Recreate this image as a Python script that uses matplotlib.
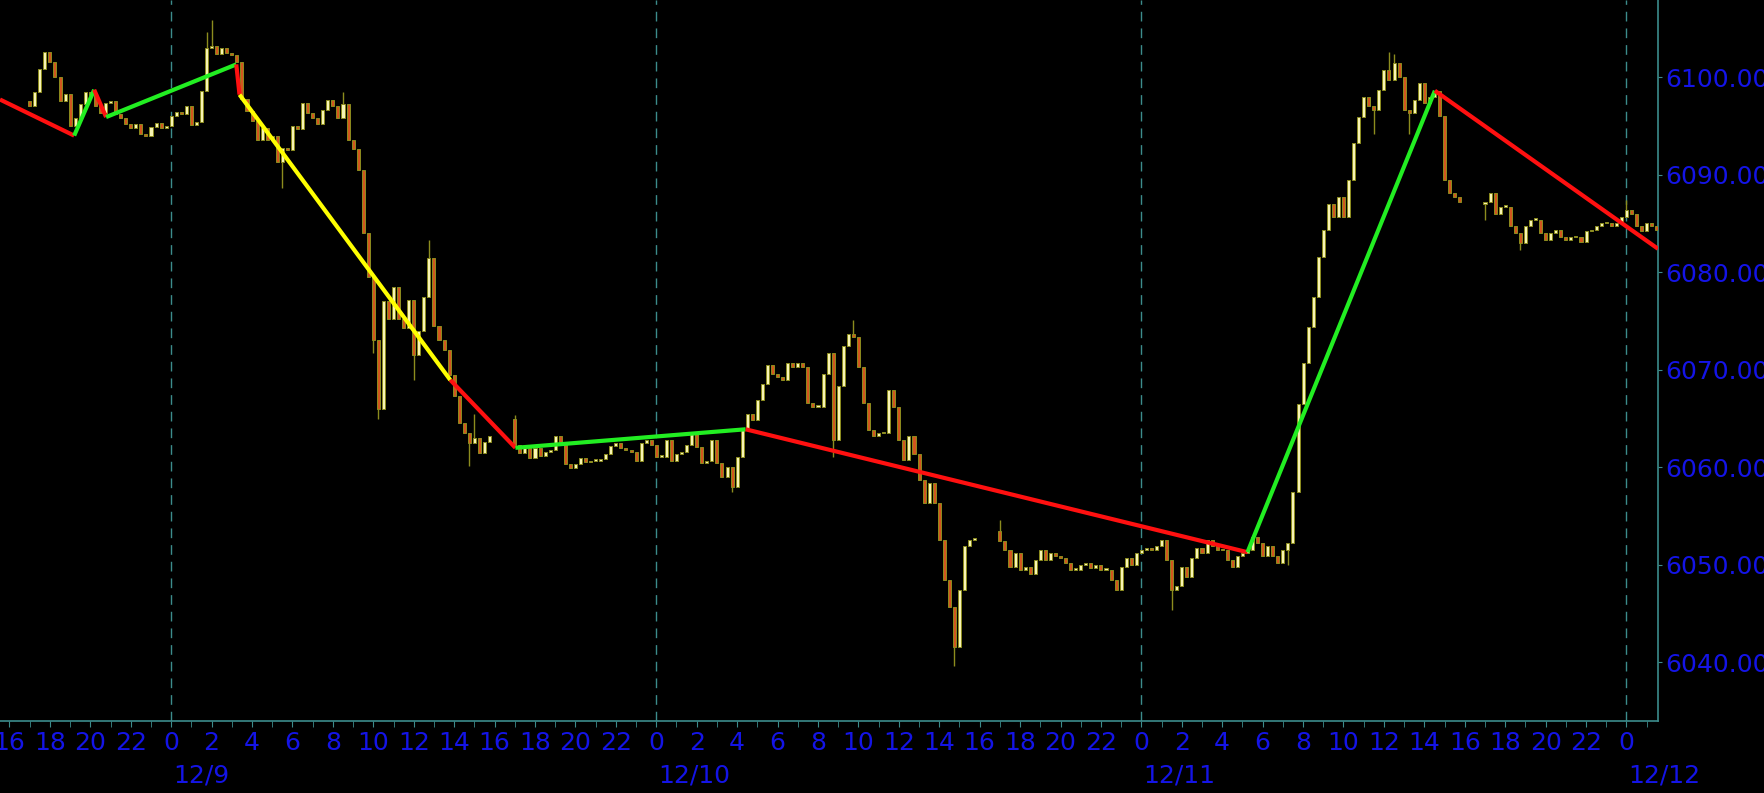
import numpy as np
import matplotlib.pyplot as plt
from matplotlib.transforms import blended_transform_factory

# x is hours counted from 12/9 00:00; four trading sessions of 15-minute bars
session_starts = [-7.0, 17.0, 41.0, 65.0]
session_opens = [6097.5, 6065.0, 6053.5, 6087.0]

closes_s1 = [
    6097.0, 6098.5, 6100.8, 6102.6, 6101.5, 6100.0, 6097.5, 6098.3, 6095.0, 6095.8,
    6097.2, 6098.5, 6098.2, 6097.0, 6096.3, 6097.3, 6097.5, 6096.2, 6095.8, 6095.2,
    6094.8, 6095.2, 6094.2, 6094.0, 6094.9, 6095.3, 6094.8, 6095.0,
    6096.0, 6096.4, 6096.2, 6097.0, 6095.1, 6095.4, 6098.6, 6103.0, 6103.2, 6102.4,
    6103.0, 6102.5, 6102.3, 6101.5, 6097.8, 6096.5, 6095.5, 6093.5, 6094.8, 6093.6,
    6094.0, 6091.3, 6092.7, 6092.5, 6095.0, 6094.7, 6097.3, 6096.3, 6095.8, 6095.2,
    6096.6, 6097.7, 6097.0, 6095.8, 6097.2, 6093.5, 6092.6, 6090.5, 6084.0, 6079.5,
    6073.0, 6066.0, 6077.0, 6075.2, 6078.5, 6075.2, 6074.3, 6077.2, 6071.5, 6074.0,
    6077.5, 6081.5, 6074.5, 6073.0, 6072.0, 6069.5, 6067.3, 6064.5, 6063.5, 6062.5,
    6063.0, 6061.5, 6062.6, 6063.2,
]
closes_s2 = [
    6062.3, 6061.5, 6062.0, 6061.0, 6062.0, 6061.2, 6061.6, 6061.8, 6063.2, 6062.3,
    6060.3, 6059.9, 6060.3, 6061.0, 6060.5, 6060.7, 6060.7, 6060.9, 6061.4, 6062.2,
    6062.5, 6062.0, 6061.8, 6061.6, 6060.7, 6062.5, 6062.8, 6062.3, 6061.1, 6061.1,
    6062.8, 6060.7, 6061.4, 6061.6, 6062.3, 6063.6, 6062.1, 6060.4, 6060.7, 6062.8,
    6060.4, 6059.0, 6060.0, 6058.0, 6061.1, 6063.8, 6065.5, 6064.9, 6066.9, 6068.5,
    6070.5, 6069.6, 6069.3, 6069.0, 6070.7, 6070.3, 6070.7, 6070.3, 6066.6, 6066.2,
    6066.2, 6069.6, 6071.7, 6062.8, 6068.3, 6072.4, 6073.7, 6073.4, 6070.3, 6066.6,
    6063.8, 6063.2, 6063.5, 6063.5, 6067.9, 6066.2, 6062.8, 6060.8, 6063.2, 6061.4,
    6058.7, 6056.3, 6058.4, 6056.3, 6052.6, 6048.5, 6045.7, 6041.6, 6047.4, 6051.9,
    6052.6, 6052.6,
]
closes_s3 = [
    6052.4, 6051.5, 6049.8, 6051.2, 6049.5, 6049.8, 6049.1, 6050.5, 6051.5, 6050.5,
    6051.2, 6050.9, 6050.7, 6050.2, 6049.5, 6049.5, 6050.0, 6050.2, 6049.7, 6050.0,
    6049.5, 6049.5, 6048.5, 6047.4, 6049.8, 6050.7, 6050.0, 6051.2, 6051.5, 6051.7,
    6051.5, 6051.9, 6052.6, 6050.5, 6047.4, 6047.8, 6049.8, 6048.8, 6050.7, 6051.7,
    6051.2, 6052.6, 6051.9, 6051.5, 6051.5, 6050.5, 6049.8, 6050.9, 6051.2, 6051.5,
    6052.9, 6052.2, 6050.9, 6051.9, 6050.9, 6050.2, 6051.5, 6052.2, 6057.5, 6066.5,
    6070.7, 6074.4, 6077.5, 6081.6, 6084.3, 6087.0, 6085.7, 6087.7, 6085.7, 6089.4,
    6093.2, 6095.9, 6098.0, 6097.0, 6096.6, 6098.7, 6100.7, 6099.7, 6101.4, 6100.0,
    6096.6, 6096.3, 6097.6, 6099.4, 6097.3, 6098.0, 6098.6, 6096.0, 6089.5, 6088.1,
    6087.7, 6087.2,
]
closes_s4 = [
    6087.2, 6088.1, 6086.0, 6086.7, 6086.7, 6084.7, 6084.0, 6083.0, 6084.7, 6085.4,
    6085.4, 6084.0, 6083.3, 6084.0, 6084.3, 6083.6, 6083.3, 6083.6, 6083.6, 6083.1,
    6084.2, 6084.3, 6084.7, 6085.0, 6085.0, 6084.7, 6085.0, 6085.7, 6086.4, 6086.0,
    6084.7, 6084.2, 6085.0, 6084.7, 6084.3,
]

# longer wicks that stand out (hour -> price)
spike_highs = {1.75: 6104.6, 2.0: 6105.8, 8.5: 6098.5, 12.75: 6083.3, 15.0: 6065.5,
               17.0: 6065.4, 33.75: 6075.1, 41.0: 6054.6, 60.25: 6102.6, 60.5: 6102.4,
               72.0: 6087.4}
spike_lows = {5.5: 6088.6, 10.0: 6071.7, 10.25: 6065.0, 12.0: 6069.0, 14.75: 6060.1,
              27.75: 6057.5, 32.75: 6061.1, 38.75: 6039.6, 49.5: 6045.4, 55.25: 6050.0,
              59.5: 6094.2, 61.25: 6094.2, 65.0: 6085.3, 66.75: 6082.3}

# zigzag indicator
zigzag_hours = [-8.47, -4.80, -3.81, -3.22, 3.22, 3.38, 13.81, 17.03, 28.42, 53.25, 62.52, 73.56]
zigzag_prices = [6097.7, 6094.0, 6098.7, 6095.9, 6101.3, 6098.2, 6068.95, 6062.0, 6063.9,
                 6051.3, 6098.6, 6082.4]
zigzag_colors = ['#ff1010', '#22ee22', '#ff1010', '#22ee22', '#ff1010', '#ffff00',
                 '#ff1010', '#22ee22', '#ff1010', '#22ee22', '#ff1010']

day_hours = [0, 24, 48, 72]
day_labels = ['12/9', '12/10', '12/11', '12/12']
y_ticks = [6040, 6050, 6060, 6070, 6080, 6090, 6100]

AXIS = '#3c8c8c'
TEXT = '#1414e6'
WICK = '#8c8c1e'
UP_BODY = '#f8f4b4'
DOWN_BODY = '#d2561e'


def build_ohlc():
    all_t, all_o, all_h, all_l, all_c = [], [], [], [], []
    for start, first_open, closes in zip(session_starts, session_opens,
                                         [closes_s1, closes_s2, closes_s3, closes_s4]):
        c = np.array(closes)
        t = start + 0.25 * np.arange(len(c))
        o = np.r_[first_open, c[:-1]]
        all_t.append(t)
        all_o.append(o)
        all_c.append(c)
        all_h.append(np.maximum(o, c))
        all_l.append(np.minimum(o, c))
    t, o, h, l, c = (np.concatenate(a) for a in (all_t, all_o, all_h, all_l, all_c))
    for hour, price in spike_highs.items():
        i = np.argmin(np.abs(t - hour))
        h[i] = max(h[i], price)
    for hour, price in spike_lows.items():
        i = np.argmin(np.abs(t - hour))
        l[i] = min(l[i], price)
    return t, o, h, l, c


t, o, h, l, c = build_ohlc()

fig = plt.figure(figsize=(17.64, 7.93), dpi=100, facecolor='black')
ax = fig.add_axes([0, 1 - 721 / 793, 1658 / 1764, 721 / 793])
ax.set_facecolor('black')

# day separators
for d in day_hours:
    ax.axvline(d, color=AXIS, lw=1, linestyle=(0, (7, 5)), zorder=1)

# candles
ax.vlines(t, l, h, color=WICK, lw=1, zorder=2)
up = c >= o
body = np.maximum(np.abs(c - o), 0.15)
ax.bar(t[up], body[up], bottom=o[up], width=0.15, color=UP_BODY,
       edgecolor=WICK, linewidth=0.7, zorder=3)
ax.bar(t[~up], body[~up], bottom=c[~up], width=0.15, color=DOWN_BODY,
       edgecolor=WICK, linewidth=0.7, zorder=3)

# zigzag
for i, col in enumerate(zigzag_colors):
    ax.plot(zigzag_hours[i:i + 2], zigzag_prices[i:i + 2], color=col, lw=3,
            solid_capstyle='butt', zorder=4)

ax.set_xlim(-8.47, 73.56)
ax.set_ylim(6034.0, 6107.9)

for side in ['top', 'left']:
    ax.spines[side].set_visible(False)
for side in ['right', 'bottom']:
    ax.spines[side].set_color(AXIS)
    ax.spines[side].set_linewidth(1.2)

ax.yaxis.tick_right()
ax.set_yticks(y_ticks)
ax.set_yticklabels([f'{v:.3f}' for v in y_ticks])
ax.tick_params(axis='y', colors=AXIS, labelcolor=TEXT, labelsize=18, length=3, pad=2)

hours = np.arange(-8, 74, 1)
ax.set_xticks(hours, minor=True)
major = np.arange(-8, 74, 2)
ax.set_xticks(major)
ax.set_xticklabels([str(int(hh % 24)) for hh in major])
ax.tick_params(axis='x', which='both', colors=AXIS, labelcolor=TEXT, length=4,
               direction='out')
ax.tick_params(axis='x', which='major', labelsize=18, pad=3)

trans = blended_transform_factory(ax.transData, ax.transAxes)
for d, lab in zip(day_hours, day_labels):
    ax.text(d + 0.1, -0.075, lab, transform=trans, ha='left', va='center',
            color=TEXT, fontsize=18, clip_on=False)

fig.savefig('out.png', dpi=100, facecolor='black')
